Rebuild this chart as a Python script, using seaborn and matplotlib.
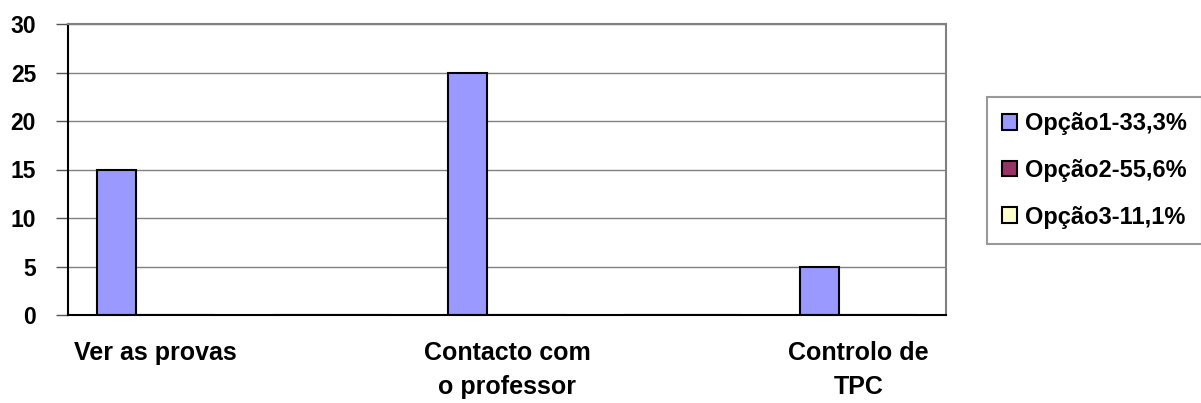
import matplotlib

matplotlib.use("Agg")
import matplotlib.pyplot as plt
import numpy as np
import pandas as pd
import seaborn as sns
from matplotlib.patches import Patch

# Data (5 category slots, only every other labelled)
categories = ["c1", "c2", "c3", "c4", "c5"]
category_labels = ["Ver as provas", "", "Contacto com\no professor", "", "Controlo de\nTPC"]
series = ["Opção1-33,3%", "Opção2-55,6%", "Opção3-11,1%"]
opcao1 = [15, 0, 25, 0, 5]
opcao2 = [0, 0, 0, 0, 0]
opcao3 = [0, 0, 0, 0, 0]
yticks = [0, 5, 10, 15, 20, 25, 30]

colors = ["#9999FF", "#993366", "#FFFFCC"]

df = pd.DataFrame(
    {
        "Categoria": categories * 3,
        "Série": np.repeat(series, len(categories)),
        "Valor": opcao1 + opcao2 + opcao3,
    }
)

sns.set_style("white")
plt.rcParams["font.family"] = ["Liberation Sans", "DejaVu Sans"]
plt.rcParams["font.weight"] = "bold"
plt.rcParams["text.color"] = "black"
plt.rcParams["xtick.labelcolor"] = "black"
plt.rcParams["ytick.labelcolor"] = "black"

fig = plt.figure(figsize=(12.01, 4.03), dpi=100)
ax = fig.add_axes([68 / 1201, 1 - 315 / 403, (946 - 68) / 1201, (315 - 24) / 403])

sns.barplot(
    data=df,
    x="Categoria",
    y="Valor",
    hue="Série",
    order=categories,
    hue_order=series,
    palette=colors,
    saturation=1,
    width=2 / 3,
    edgecolor="black",
    linewidth=1.5,
    legend=False,
    ax=ax,
)

ax.set_xlim(-0.5, len(categories) - 0.5)
ax.set_ylim(0, 30)
ax.set_yticks(yticks)
ax.set_yticklabels([str(v) for v in yticks], fontsize=16.5, fontweight="bold", color="black")
ax.yaxis.grid(True, color="#808080", linewidth=1)
ax.set_axisbelow(True)

ax.set_xticks(range(len(categories)))
ax.set_xticklabels(category_labels, fontsize=18, fontweight="bold", linespacing=1.5, color="black")
ax.set_xticks(np.arange(-0.5, len(categories)), minor=True)
ax.tick_params(axis="x", which="major", length=0, pad=19)
ax.tick_params(axis="x", which="minor", length=8, width=1, color="#555555", direction="out")
ax.tick_params(axis="y", length=9, width=1, color="#555555", direction="out", pad=14, left=True)
ax.set_xlabel("")
ax.set_ylabel("")

for side in ["top", "right"]:
    ax.spines[side].set_visible(True)
    ax.spines[side].set_color("#808080")
    ax.spines[side].set_linewidth(1.5)
ax.spines["left"].set_color("black")
ax.spines["bottom"].set_color("black")
ax.spines["left"].set_linewidth(1.5)
ax.spines["bottom"].set_linewidth(1.5)

handles = [Patch(facecolor=c, edgecolor="black", linewidth=1.5) for c in colors]
leg = fig.legend(
    handles,
    series,
    loc="upper left",
    bbox_to_anchor=(987 / 1201, 1 - 97 / 403),
    prop={"size": 17, "weight": "bold"},
    labelcolor="black",
    frameon=True,
    fancybox=False,
    edgecolor="#808080",
    handlelength=0.64,
    handleheight=0.64,
    handletextpad=0.3,
    labelspacing=1.0,
    borderpad=0.65,
    borderaxespad=0,
)
leg.get_frame().set_linewidth(1.5)

fig.savefig("out.png", dpi=100)
